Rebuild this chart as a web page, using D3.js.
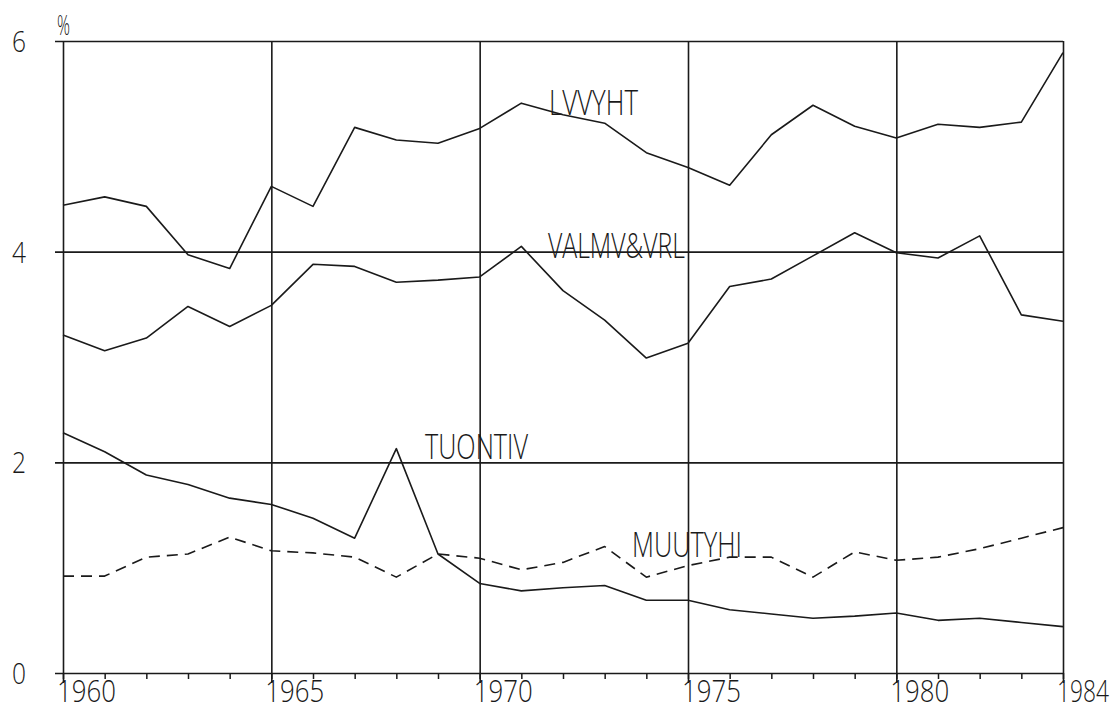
<!DOCTYPE html>
<html><head><meta charset="utf-8">
<script src="https://cdn.jsdelivr.net/npm/d3@7"></script>
<style>
html,body{margin:0;padding:0;background:#fff;}
svg{display:block;}
text{font-family:"Open Sans","DejaVu Sans",sans-serif;font-weight:300;fill:#1a1a1a;}
</style></head>
<body><svg id="c" width="1118" height="712"></svg>
<script>
const years = d3.range(1960, 1985);
const majorYears = [1960, 1965, 1970, 1975, 1980, 1984];
const yTicks = [0, 2, 4, 6];
const seriesNames = ["LVVYHT", "VALMV&VRL", "TUONTIV", "MUUTYHI"];
const lvvyht = [4.44,4.52,4.43,3.97,3.84,4.62,4.43,5.18,5.06,5.03,5.17,5.41,5.30,5.22,4.94,4.80,4.63,5.11,5.39,5.19,5.08,5.21,5.18,5.23,5.89];
const valmv = [3.21,3.06,3.18,3.48,3.29,3.49,3.88,3.86,3.71,3.73,3.76,4.05,3.63,3.35,2.99,3.13,3.67,3.74,3.96,4.18,3.99,3.94,4.15,3.40,3.34];
const tuontiv = [2.28,2.10,1.88,1.79,1.66,1.60,1.47,1.28,2.13,1.13,0.85,0.78,0.81,0.83,0.69,0.69,0.60,0.56,0.52,0.54,0.57,0.50,0.52,0.48,0.44];
const muutyhi = [0.92,0.92,1.10,1.13,1.29,1.16,1.14,1.10,0.91,1.13,1.09,0.98,1.05,1.20,0.91,1.02,1.10,1.10,0.91,1.15,1.07,1.10,1.18,1.28,1.38];

const svg = d3.select("#c");
const x = d3.scaleLinear().domain([1960, 1984]).range([63, 1063]);
const y = d3.scaleLinear().domain([0, 6]).range([673, 41]);
const ink = "#1a1a1a";

// squeeze a text horizontally to a target width with a transform
function squeeze(sel, px, py, w) {
  sel.each(function(d, i) {
    const t = d3.select(this);
    const nat = this.getComputedTextLength() || w;
    t.attr("transform", `translate(${px(d, i)},${py(d, i)}) scale(${w(d, i) / nat},1)`);
  });
}

// minor year ticks (below axis)
const minor = svg.append("g").attr("transform", `translate(0,${y(0)})`)
  .call(d3.axisBottom(x).tickValues(years).tickSize(6).tickFormat(""));
minor.select(".domain").remove();
minor.selectAll("line").attr("stroke", ink).attr("stroke-width", 1.5);

// vertical grid lines at major years
const vg = svg.append("g").attr("transform", `translate(0,${y(0) + 10})`)
  .call(d3.axisTop(x).tickValues(majorYears).tickSize(y(0) + 10 - y(6)).tickFormat(""));
vg.select(".domain").remove();
vg.selectAll("line").attr("stroke", ink).attr("stroke-width", 1.6);

// horizontal grid lines
const hg = svg.append("g").attr("transform", `translate(${x(1984)},0)`)
  .call(d3.axisLeft(y).tickValues(yTicks).tickSize(x(1984) - 55).tickFormat(""));
hg.select(".domain").remove();
hg.selectAll("line").attr("stroke", ink).attr("stroke-width", 1.6);

// y labels
svg.append("g").selectAll("text").data(yTicks).join("text")
  .attr("font-size", 30).text(d => d)
  .call(squeeze, () => 12, d => y(d) + 11, () => 14);

// x labels
svg.append("g").selectAll("text").data(majorYears).join("text")
  .attr("font-size", 31).text(d => d)
  .call(squeeze, d => x(d) - (d === 1984 ? 6 : 6), () => 702, d => d === 1984 ? 52 : 59);

// percent sign
svg.append("text").datum("%").attr("font-size", 27).text("%")
  .call(squeeze, () => 57, () => 35, () => 13);

const line = d3.line().x((d, i) => x(years[i])).y(d => y(d));
const series = [lvvyht, valmv, tuontiv, muutyhi];
series.forEach((s, k) => {
  svg.append("path").datum(s).attr("d", line)
    .attr("fill", "none").attr("stroke", ink).attr("stroke-width", 1.6)
    .attr("stroke-linejoin", "round")
    .attr("stroke-dasharray", k === 3 ? "11,7" : null);
});

// series labels
const labelPos = [
  {x: 549, y: 115, w: 89},
  {x: 548, y: 258, w: 137},
  {x: 425, y: 459, w: 103},
  {x: 632, y: 557, w: 110}
];
svg.append("g").selectAll("text").data(seriesNames).join("text")
  .attr("font-size", 35).text(d => d)
  .call(squeeze, (d, i) => labelPos[i].x, (d, i) => labelPos[i].y, (d, i) => labelPos[i].w);
</script></body></html>
